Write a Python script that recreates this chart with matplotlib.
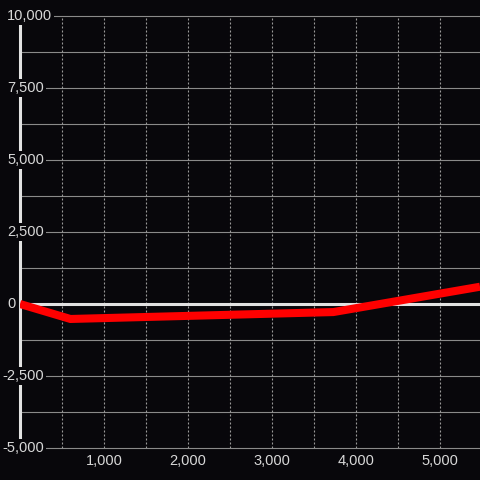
import matplotlib
matplotlib.use("Agg")
import matplotlib.pyplot as plt
import numpy as np

BG = "#08070b"

# data
xs = [0, 600, 3730, 5476]
ys = [0, -520, -280, 600]

y_ticks = [-5000, -2500, 0, 2500, 5000, 7500, 10000]
y_grid = np.arange(-5000, 10001, 1250)
x_ticks = [1000, 2000, 3000, 4000, 5000]
x_grid = np.arange(500, 5500, 500)

plt.rcParams['font.family'] = ['Liberation Sans', 'DejaVu Sans']

fig = plt.figure(figsize=(4.8, 4.8), dpi=100, facecolor=BG)
ax = fig.add_axes([20 / 480, 32 / 480, 460 / 480, 432 / 480])
ax.set_facecolor(BG)
ax.set_xlim(0, 5476)
ax.set_ylim(-5000, 10000)
for s in ax.spines.values():
    s.set_visible(False)
ax.set_xticks([])
ax.set_yticks([])

# horizontal grid, solid
for g in y_grid:
    ax.axhline(g, color="#8a8a8a", lw=0.8, zorder=1, clip_on=False)
# vertical grid, dotted
for g in x_grid:
    ax.axvline(g, color="#9a9a9a", lw=0.8, ls=(0, (1.8, 1.8)), zorder=1)

# zero line and y axis
ax.axhline(0, color="#e2e2e2", lw=2.2, zorder=2)
ax.axvline(0, color="#e2e2e2", lw=2.2, zorder=2, clip_on=False)

# the series
ax.plot(xs, ys, color="#ff0000", lw=5.8, zorder=3, solid_joinstyle="miter",
        solid_capstyle="butt")

box = dict(facecolor=BG, edgecolor="none", pad=1.5)
ytr = ax.get_yaxis_transform()
for v in y_ticks:
    xp = (2 - 20) / 460 if v < 0 else (7 - 20) / 460
    ax.text(xp, v, f"{v:,}", transform=ytr, ha="left", va="center",
            fontsize=10.5, color="#d8d8d8", bbox=box, zorder=5, clip_on=False)

xtr = ax.get_xaxis_transform()
for v in x_ticks:
    ax.text(v, -13 / 432, f"{v:,}", transform=xtr, ha="center", va="center",
            fontsize=10.5, color="#d8d8d8", bbox=box, zorder=5, clip_on=False)

fig.savefig("out.png", dpi=100, facecolor=BG)
